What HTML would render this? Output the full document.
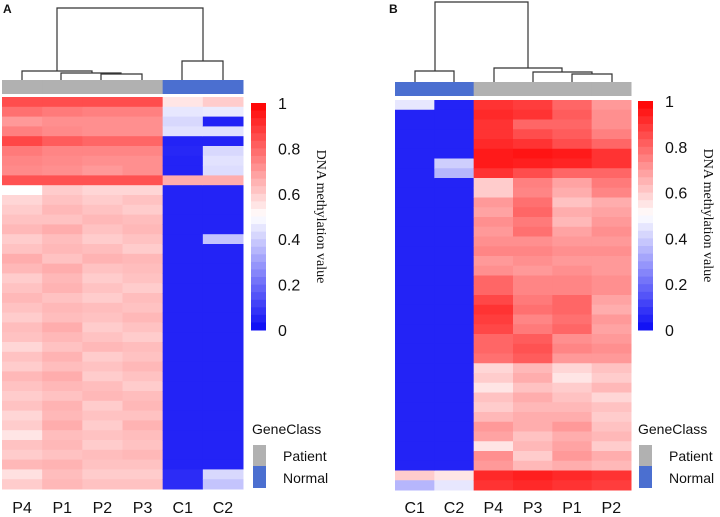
<!DOCTYPE html>
<html><head><meta charset="utf-8"><style>
body{margin:0;background:#fff;width:720px;height:517px;overflow:hidden}
svg{display:block}
text{font-family:"Liberation Sans",sans-serif;fill:#111}
.serif{font-family:"Liberation Serif",serif}
</style></head><body>
<svg id="chart" width="720" height="517">
<g id="dend" fill="none" stroke="#333" stroke-width="1.2">
<path d="M22,80V71H92V73M92,73V73M61,80V73H121V74M101,80V74H142V80M121,74V74M57,71V8H203V61M182,80V61H223V80"/>
<path d="M415,82V71H454V82M435,71V2H528V68M494,82V68H562V72M533,82V72H592V74M572,82V74H612V82"/>
</g>
<text x="3" y="13" style="font-weight:bold;font-size:12px">A</text>
<text x="389" y="13" style="font-weight:bold;font-size:12px">B</text>
<g id="heat"></g>
<g id="legends"></g>
</svg>
<script>
const colsA=["P4","P1","P2","P3","C1","C2"];
const classA=["Patient","Patient","Patient","Patient","Normal","Normal"];
const valsA_P4=[.85,.78,.7,.75,.86,.76,.74,.73,.84,.5,.58,.6,.62,.64,.6,.62,.66,.64,.6,.62,.64,.62,.6,.63,.62,.58,.62,.6,.64,.62,.6,.62,.58,.6,.55,.62,.6,.64,.56,.6];
const valsA_P1=[.85,.76,.72,.73,.82,.74,.73,.72,.84,.6,.62,.64,.62,.66,.63,.64,.62,.66,.64,.65,.62,.64,.63,.66,.64,.62,.65,.63,.66,.64,.62,.65,.64,.66,.63,.64,.62,.65,.63,.64];
const valsA_P2=[.85,.75,.72,.72,.8,.74,.72,.7,.84,.58,.6,.62,.64,.62,.6,.63,.65,.62,.6,.62,.6,.63,.62,.6,.62,.64,.6,.62,.6,.63,.64,.6,.62,.6,.62,.6,.63,.62,.6,.62];
const valsA_P3=[.85,.75,.72,.72,.8,.74,.72,.72,.84,.58,.62,.6,.63,.64,.62,.6,.64,.63,.62,.6,.63,.62,.64,.62,.6,.63,.62,.64,.62,.6,.63,.64,.62,.65,.63,.62,.64,.62,.6,.62];
const valsA_C1=[.55,.45,.42,.44,.05,.06,.05,.05,.66,.05,.05,.05,.05,.05,.05,.05,.05,.05,.05,.05,.05,.05,.05,.05,.05,.05,.05,.05,.05,.05,.05,.05,.05,.05,.05,.05,.05,.05,.07,.07];
const valsA_C2=[.6,.46,.05,.44,.05,.42,.44,.43,.66,.05,.05,.05,.05,.05,.38,.05,.05,.05,.05,.05,.05,.05,.05,.05,.05,.05,.05,.05,.05,.05,.05,.05,.05,.05,.05,.05,.05,.05,.42,.38];
const colsB=["C1","C2","P4","P3","P1","P2"];
const classB=["Normal","Normal","Patient","Patient","Patient","Patient"];
const valsB_C1=[.45,.05,.05,.05,.05,.05,.05,.05,.05,.05,.05,.05,.05,.05,.05,.05,.05,.05,.05,.05,.05,.05,.05,.05,.05,.05,.05,.05,.05,.05,.05,.05,.05,.05,.05,.05,.05,.05,.6,.35];
const valsB_C2=[.05,.05,.05,.05,.05,.05,.4,.35,.05,.05,.05,.05,.05,.05,.05,.05,.05,.05,.05,.05,.05,.05,.05,.05,.05,.05,.05,.05,.05,.05,.05,.05,.05,.05,.05,.05,.05,.05,.55,.45];
const valsB_P4=[.9,.92,.9,.9,.92,.95,.95,.9,.6,.6,.7,.68,.72,.7,.72,.74,.7,.72,.8,.8,.86,.9,.88,.86,.8,.8,.78,.58,.6,.55,.62,.6,.64,.7,.68,.55,.72,.7,.92,.9];
const valsB_P3=[.88,.9,.8,.85,.9,.96,.94,.85,.75,.74,.78,.8,.76,.78,.72,.74,.72,.7,.74,.74,.76,.78,.74,.76,.82,.84,.82,.64,.66,.62,.66,.64,.66,.66,.62,.64,.6,.64,.94,.92];
const valsB_P1=[.8,.82,.8,.82,.85,.95,.93,.8,.68,.66,.62,.66,.64,.68,.7,.72,.7,.72,.74,.74,.8,.8,.78,.8,.72,.74,.7,.58,.55,.6,.62,.64,.66,.7,.66,.68,.7,.66,.92,.9];
const valsB_P2=[.7,.72,.72,.75,.8,.9,.9,.8,.76,.74,.66,.68,.7,.72,.7,.72,.7,.7,.72,.72,.68,.66,.7,.68,.7,.72,.7,.62,.6,.64,.58,.62,.6,.62,.64,.6,.66,.64,.9,.88];
const ticks=[0,0.2,0.4,0.6,0.8,1];

const NS="http://www.w3.org/2000/svg";
function col(v){v=Math.max(0,Math.min(1,v));let r,g,b;
 if(v<0.5){const t=v/0.5;r=Math.round(10+245*t);g=Math.round(10+245*t);b=Math.round(245+10*t);}
 else{const t=(v-0.5)/0.5;r=255;g=Math.round(255*(1-t));b=Math.round(255*(1-t));}
 return `rgb(${r},${g},${b})`;}
function mk(tag,attrs,parent){const e=document.createElementNS(NS,tag);for(const k in attrs)e.setAttribute(k,attrs[k]);parent.appendChild(e);return e;}
const heat=document.getElementById('heat');
const leg=document.getElementById('legends');
function panel(cols,classes,vals,x0,x1,yAnn0,yAnn1,y0,y1,cbx,cby0,cby1,legx){
 const cw=(x1-x0)/cols.length;
 cols.forEach((c,i)=>{
  const a=mk('rect',{x:x0+i*cw,y:yAnn0,width:cw+0.5,height:yAnn1-yAnn0,fill:classes[i]==="Patient"?"#b1b1b1":"#4b6fd0"},heat);
  
  
  const v=vals[i];const rh=(y1-y0)/v.length;
  v.forEach((val,j)=>{
   const r=mk('rect',{x:x0+i*cw,y:y0+j*rh,width:cw+0.5,height:rh+0.5,fill:col(val)},heat);
   
   
  });
  const t=mk('text',{x:x0+i*cw+cw/2,y:513,'text-anchor':'middle','font-size':'16'},heat);
  t.textContent=c;
  
  
 });
 const n=30,h=(cby1-cby0)/n;
 for(let k=0;k<n;k++){const r=mk('rect',{x:cbx,y:cby0+k*h,width:15,height:h+0.5,fill:col(1-(k+0.5)/n)},leg);
  
  }
 ticks.forEach(tv=>{const y=cby1-tv*(cby1-cby0);
  const t=mk('text',{x:cbx+27,y:y+6,'font-size':'16'},leg);t.textContent=String(tv);
  
  });
 const tt=mk('text',{x:cbx+66,y:(cby0+cby1)/2,'font-size':'14','text-anchor':'middle',class:'serif',transform:`rotate(90 ${cbx+66} ${(cby0+cby1)/2})`},leg);
 tt.textContent="DNA methylation value";
 
 
 const g=mk('text',{x:legx,y:434,'font-size':'14'},leg);g.textContent="GeneClass";
 
 
 const b1=mk('rect',{x:legx+1,y:445,width:13,height:21,fill:'#b1b1b1'},leg);
 
 
 const b2=mk('rect',{x:legx+1,y:466,width:13,height:22,fill:'#4b6fd0'},leg);
 
 
 const l1=mk('text',{x:legx+31,y:461,'font-size':'14'},leg);l1.textContent="Patient";
 
 
 const l2=mk('text',{x:legx+31,y:483,'font-size':'14'},leg);l2.textContent="Normal";
 
 
}
panel(colsA,classA,[valsA_P4,valsA_P1,valsA_P2,valsA_P3,valsA_C1,valsA_C2],2,243,80,94,97,489,251,103,330,252);
panel(colsB,classB,[valsB_C1,valsB_C2,valsB_P4,valsB_P3,valsB_P1,valsB_P2],395,631,82,96,100,490,638,101,330,638);
</script>
</body></html>
